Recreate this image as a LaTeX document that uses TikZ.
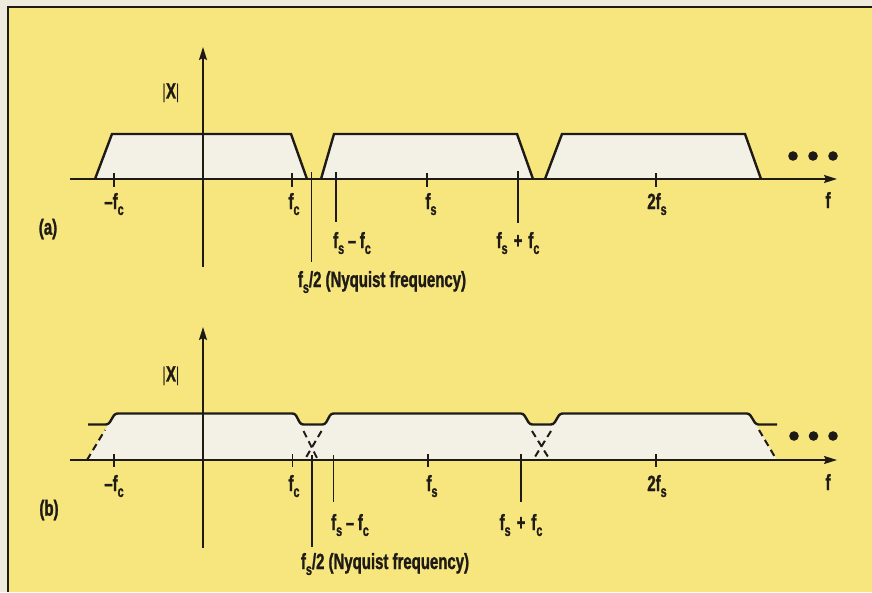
\documentclass[tikz,border=0pt]{standalone}
\usepackage{fontspec}
\usetikzlibrary{arrows.meta}
\newfontfamily\lab{Liberation Sans}[UprightFont={* Bold},FakeStretch=0.68,FakeBold=1.2]
\newfontfamily\labthin{Liberation Sans}[FakeStretch=0.68]
\definecolor{bgyellow}{RGB}{247,230,125}
\definecolor{paperc}{RGB}{238,234,222}
\definecolor{bandfill}{RGB}{243,241,230}
\definecolor{ink}{RGB}{30,26,22}
\newcommand{\lsb}[1]{\raisebox{-0.27em}{\fontsize{16}{16}\selectfont #1}}
\tikzset{
  lbl/.style={font=\lab\fontsize{22}{22}\selectfont, inner sep=0pt, anchor=base, text=ink},
  axis/.style={draw=ink, line width=1.8pt, -{Stealth[length=13pt,width=8pt,inset=2pt]}},
  outl/.style={draw=ink, line width=2.4pt, line join=miter},
  tickl/.style={draw=ink, line width=1.6pt},
  dsh/.style={draw=ink, line width=2pt, dash pattern=on 7pt off 4.5pt},
  dotc/.style={fill=ink}
}
\begin{document}
\begin{tikzpicture}[x=1pt,y=-1pt]
\useasboundingbox (0,0) rectangle (872,592);
\fill[paperc] (0,0) rectangle (872,592);
\fill[bgyellow] (8,7) rectangle (872,592);
\draw[ink, line width=1.6pt] (8,592) -- (8,7) -- (872,7);

% ================= panel (a) =================
\fill[bandfill] (95,179) -- (112,134) -- (291,134) -- (307,179) -- cycle;
\fill[bandfill] (321,179) -- (334,134) -- (517,134) -- (533,179) -- cycle;
\fill[bandfill] (545,179) -- (562,134) -- (745,134) -- (761,179) -- cycle;
\draw[outl] (95,179) -- (112,134) -- (291,134) -- (307,179);
\draw[outl] (321,179) -- (334,134) -- (517,134) -- (533,179);
\draw[outl] (545,179) -- (562,134) -- (745,134) -- (761,179);

\coordinate (axL) at (70,179);
\coordinate (axR) at (837,179);
\coordinate (ayB) at (203,267);
\coordinate (ayT) at (203,47);
\draw[axis] (axL) -- (axR);
\draw[axis] (ayB) -- (ayT);

\foreach \x in {114,292,427,656} \draw[tickl] (\x,173) -- (\x,187);
\coordinate (nqT) at (311.5,172); \coordinate (nqB) at (311.5,262);
\coordinate (smT) at (336,172);   \coordinate (smB) at (336,222);
\coordinate (spT) at (518,171);   \coordinate (spB) at (518,223);
\draw[tickl] (nqT) -- (nqB);
\draw[tickl] (smT) -- (smB);
\draw[tickl] (spT) -- (spB);

\fill[dotc] (793,156) circle (4.8pt);
\fill[dotc] (813,156) circle (4.8pt);
\fill[dotc] (833,156) circle (4.8pt);

\node[lbl, anchor=center] (aX) at (171,93) {{\labthin\fontsize{20}{20}\selectfont|}X{\labthin\fontsize{20}{20}\selectfont|}};
\node[lbl, anchor=center] (aa) at (48,229) {(a)};
\node[lbl] (amfc) at (114,209) {–f\lsb{c}};
\node[lbl] (afc) at (294,209) {f\lsb{c}};
\node[lbl] (afs) at (431,209) {f\lsb{s}};
\node[lbl] (a2fs) at (657,209) {2f\lsb{s}};
\node[lbl] (af) at (828,208) {f};
\node[lbl] (asm) at (352,248) {f\lsb{s}\,–\,f\lsb{c}};
\node[lbl] (asp) at (518,248) {f\lsb{s}\hspace{6pt}+\hspace{6pt}f\lsb{c}};
\node[lbl] (anq) at (382,287) {f\lsb{s}/2 (Nyquist frequency)};

% ================= panel (b) =================
\fill[bandfill] (87,460) -- (108.4,424.5) -- (115,413.5) -- (295,413.5) -- (300.8,424.5)
  -- (325,424.5) -- (331,413.5) -- (523.3,413.5) -- (529.8,424.5) -- (553.4,424.5)
  -- (560,413.5) -- (749.3,413.5) -- (756,424.5) -- (776.7,460) -- cycle;
\draw[outl, rounded corners=2.5pt] (88,424.5) -- (108.4,424.5) -- (115,413.5) -- (295,413.5) -- (300.8,424.5)
  -- (325,424.5) -- (331,413.5) -- (523.3,413.5) -- (529.8,424.5) -- (553.4,424.5)
  -- (560,413.5) -- (749.3,413.5) -- (756,424.5) -- (777,424.5);
\draw[dsh] (87,460) -- (105,430);
\draw[dsh] (303.5,431) -- (318,460);
\draw[dsh] (321.5,431) -- (304.5,460);
\draw[dsh] (532,431) -- (550,460);
\draw[dsh] (551,431) -- (533,460);
\draw[dsh] (759,430) -- (776.7,460);

\coordinate (bxL) at (70,460);
\coordinate (bxR) at (837,460);
\coordinate (byB) at (203,548);
\coordinate (byT) at (203,327);
\draw[axis] (bxL) -- (bxR);
\draw[axis] (byB) -- (byT);

\foreach \x in {114,292.5,427.7,656} \draw[tickl] (\x,454) -- (\x,467);
\coordinate (bnqT) at (311.7,455); \coordinate (bnqB) at (311.7,547);
\coordinate (bsmT) at (333.3,455); \coordinate (bsmB) at (333.3,502);
\coordinate (bspT) at (521,454);   \coordinate (bspB) at (521,502);
\draw[tickl] (bnqT) -- (bnqB);
\draw[tickl] (bsmT) -- (bsmB);
\draw[tickl] (bspT) -- (bspB);

\fill[dotc] (794,436) circle (4.8pt);
\fill[dotc] (813.5,436) circle (4.8pt);
\fill[dotc] (833,436) circle (4.8pt);

\node[lbl, anchor=center] (bX) at (171,376) {{\labthin\fontsize{20}{20}\selectfont|}X{\labthin\fontsize{20}{20}\selectfont|}};
\node[lbl, anchor=center] (bb) at (49,510) {(b)};
\node[lbl] (bmfc) at (114,491) {–f\lsb{c}};
\node[lbl] (bfc) at (294,491) {f\lsb{c}};
\node[lbl] (bfs) at (432,491) {f\lsb{s}};
\node[lbl] (b2fs) at (657,491) {2f\lsb{s}};
\node[lbl] (bf) at (828,490) {f};
\node[lbl] (bsm) at (350,530) {f\lsb{s}\,–\,f\lsb{c}};
\node[lbl] (bsp) at (521,530) {f\lsb{s}\hspace{6pt}+\hspace{6pt}f\lsb{c}};
\node[lbl] (bnq) at (385,569) {f\lsb{s}/2 (Nyquist frequency)};
\end{tikzpicture}
\end{document}
